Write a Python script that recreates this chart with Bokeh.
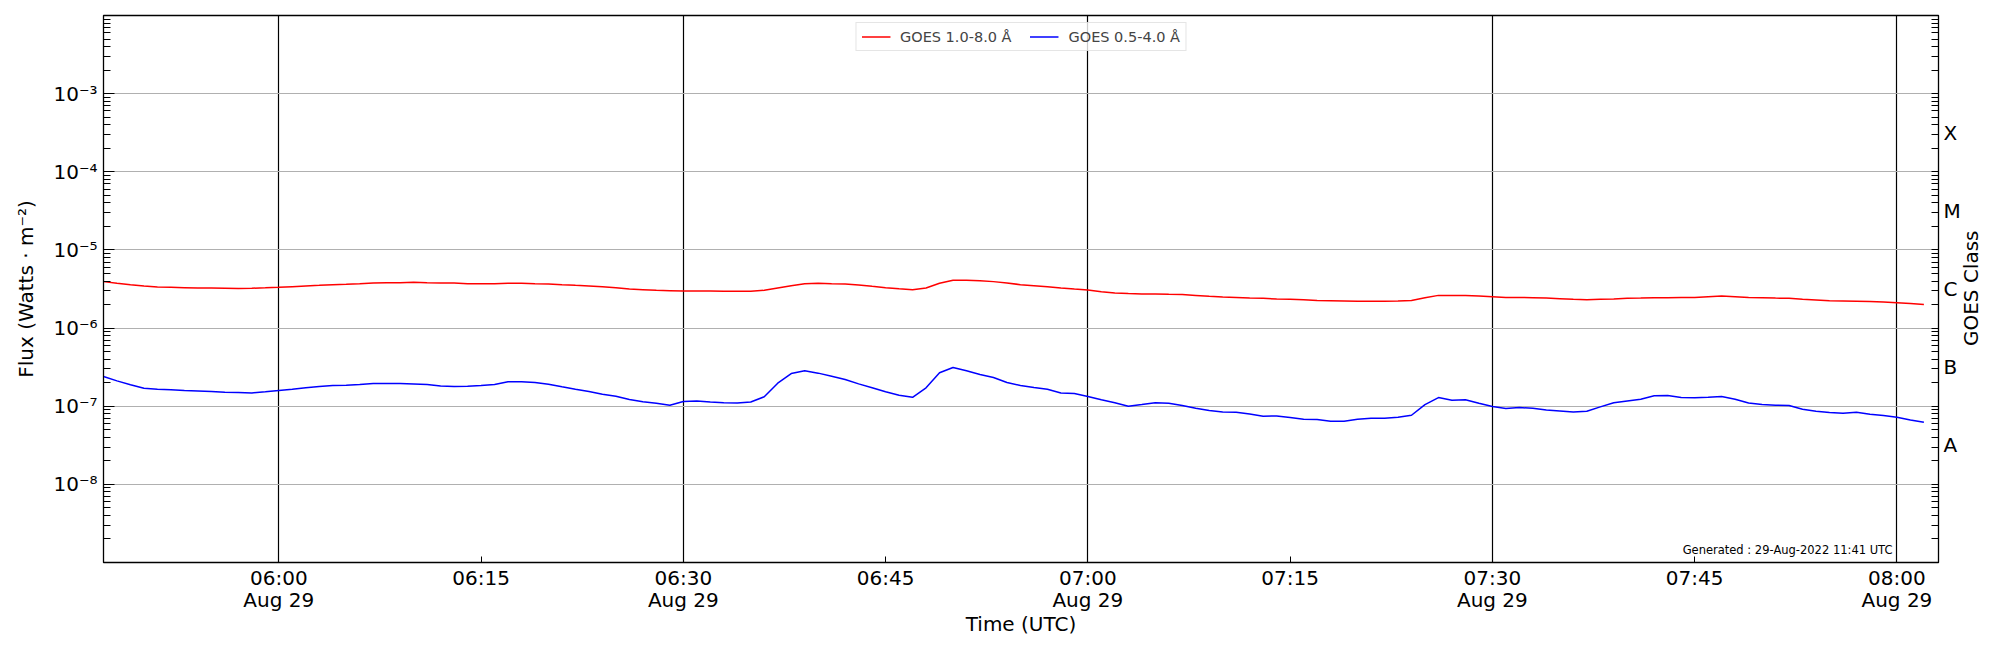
import numpy as np
import pandas as pd
from math import pi
from bokeh.plotting import figure
from bokeh.models import (Range1d, FixedTicker, LogAxis, CustomJSTickFormatter,
                          Legend, LegendItem, Label)
from bokeh.embed import file_html
from bokeh.resources import INLINE

# ---------------- data ----------------
start_time = "2022-08-29 05:47"
date_label = "Aug 29"
legend_labels = ["GOES 1.0-8.0 Å", "GOES 0.5-4.0 Å"]
goes_classes = ["A", "B", "C", "M", "X"]
right_title = "GOES Class"
generated_text = "Generated : 29-Aug-2022 11:41 UTC"

# GOES 1.0-8.0 Å flux (W m^-2), one value per minute from 05:47
red_flux = [
    3.93e-6, 3.74e-6, 3.59e-6, 3.46e-6, 3.35e-6, 3.32e-6, 3.29e-6, 3.26e-6, 3.26e-6, 3.24e-6,
    3.22e-6, 3.24e-6, 3.27e-6,
    3.32e-6, 3.39e-6, 3.46e-6, 3.52e-6, 3.59e-6, 3.63e-6, 3.70e-6, 3.78e-6, 3.81e-6, 3.81e-6,
    3.85e-6, 3.81e-6, 3.78e-6, 3.78e-6, 3.70e-6, 3.70e-6, 3.70e-6, 3.74e-6, 3.74e-6, 3.70e-6,
    3.67e-6, 3.59e-6, 3.52e-6, 3.46e-6, 3.39e-6, 3.29e-6, 3.16e-6, 3.10e-6, 3.04e-6, 3.01e-6,
    2.98e-6, 2.98e-6, 2.98e-6, 2.95e-6, 2.95e-6, 2.95e-6, 3.04e-6, 3.26e-6, 3.49e-6, 3.70e-6,
    3.74e-6, 3.70e-6, 3.67e-6, 3.56e-6, 3.42e-6, 3.29e-6, 3.19e-6, 3.10e-6, 3.26e-6, 3.74e-6,
    4.08e-6, 4.08e-6, 4.04e-6, 3.93e-6, 3.78e-6, 3.59e-6, 3.49e-6, 3.39e-6, 3.26e-6, 3.16e-6,
    3.07e-6, 2.92e-6, 2.81e-6, 2.76e-6, 2.73e-6, 2.73e-6, 2.70e-6, 2.68e-6, 2.62e-6, 2.55e-6,
    2.50e-6, 2.47e-6, 2.42e-6, 2.40e-6, 2.35e-6, 2.33e-6, 2.31e-6, 2.26e-6, 2.24e-6, 2.22e-6,
    2.20e-6, 2.20e-6, 2.20e-6, 2.22e-6, 2.26e-6, 2.45e-6, 2.62e-6, 2.62e-6, 2.62e-6, 2.57e-6,
    2.52e-6, 2.47e-6, 2.47e-6, 2.45e-6, 2.42e-6, 2.38e-6, 2.33e-6, 2.31e-6, 2.33e-6, 2.35e-6,
    2.40e-6, 2.42e-6, 2.45e-6, 2.45e-6, 2.47e-6, 2.47e-6, 2.52e-6, 2.57e-6, 2.52e-6, 2.47e-6,
    2.45e-6, 2.42e-6, 2.40e-6, 2.33e-6, 2.29e-6, 2.24e-6, 2.22e-6, 2.20e-6, 2.18e-6, 2.15e-6,
    2.11e-6, 2.07e-6, 2.01e-6,
]

# GOES 0.5-4.0 Å flux (W m^-2), one value per minute from 05:47
blue_flux = [
    2.40e-7, 2.11e-7, 1.88e-7, 1.70e-7, 1.65e-7, 1.62e-7, 1.59e-7, 1.57e-7, 1.54e-7, 1.51e-7,
    1.50e-7, 1.48e-7, 1.53e-7,
    1.59e-7, 1.65e-7, 1.72e-7, 1.79e-7, 1.84e-7, 1.86e-7, 1.90e-7, 1.95e-7, 1.95e-7, 1.95e-7,
    1.93e-7, 1.90e-7, 1.82e-7, 1.79e-7, 1.80e-7, 1.84e-7, 1.90e-7, 2.05e-7, 2.05e-7, 2.01e-7,
    1.91e-7, 1.77e-7, 1.65e-7, 1.54e-7, 1.42e-7, 1.34e-7, 1.22e-7, 1.14e-7, 1.09e-7, 1.03e-7,
    1.15e-7, 1.17e-7, 1.13e-7, 1.11e-7, 1.10e-7, 1.13e-7, 1.32e-7, 1.97e-7, 2.62e-7, 2.84e-7,
    2.65e-7, 2.42e-7, 2.20e-7, 1.93e-7, 1.72e-7, 1.53e-7, 1.38e-7, 1.30e-7, 1.72e-7, 2.68e-7,
    3.13e-7, 2.84e-7, 2.55e-7, 2.33e-7, 2.01e-7, 1.84e-7, 1.73e-7, 1.65e-7, 1.48e-7, 1.45e-7,
    1.33e-7, 1.21e-7, 1.11e-7, 1.00e-7, 1.05e-7, 1.11e-7, 1.09e-7, 1.02e-7, 0.943e-7, 0.880e-7,
    0.846e-7, 0.838e-7, 0.797e-7, 0.744e-7, 0.752e-7, 0.716e-7, 0.681e-7, 0.675e-7, 0.642e-7, 0.642e-7,
    0.681e-7, 0.702e-7, 0.702e-7, 0.723e-7, 0.767e-7, 1.05e-7, 1.29e-7, 1.19e-7, 1.21e-7, 1.09e-7,
    0.990e-7, 0.934e-7, 0.961e-7, 0.943e-7, 0.897e-7, 0.871e-7, 0.846e-7, 0.863e-7, 0.981e-7, 1.11e-7,
    1.17e-7, 1.23e-7, 1.36e-7, 1.37e-7, 1.29e-7, 1.28e-7, 1.30e-7, 1.33e-7, 1.23e-7, 1.10e-7,
    1.05e-7, 1.03e-7, 1.02e-7, 0.915e-7, 0.863e-7, 0.829e-7, 0.813e-7, 0.838e-7, 0.790e-7, 0.759e-7,
    0.723e-7, 0.668e-7, 0.624e-7,
]

times = pd.date_range(start=start_time, periods=len(red_flux), freq="min")

# ---------------- figure ----------------
FONT = "DejaVu Sans"

def ms(ts):
    return pd.Timestamp(ts).value // 10**6

x_start = pd.Timestamp("2022-08-29 05:47:00")
x_end = pd.Timestamp("2022-08-29 08:03:05")

p = figure(width=2000, height=650, x_axis_type="datetime", y_axis_type="log",
           x_range=Range1d(x_start, x_end), y_range=Range1d(1e-9, 1e-2),
           output_backend="svg", toolbar_location=None,
           min_border_left=103, min_border_right=62, min_border_top=15, min_border_bottom=88)
p.background_fill_color = "white"
p.border_fill_color = "white"
p.outline_line_color = "black"
p.outline_line_width = 1.3
p.outline_line_alpha = 1.0

r_red = p.line(times, red_flux, line_color="#ff0000", line_width=1.5)
r_blue = p.line(times, blue_flux, line_color="#0000ff", line_width=1.5)

# x ticks every 15 minutes, vertical black lines every 30 minutes
quarter_ticks = [ms(t) for t in pd.date_range("2022-08-29 06:00", "2022-08-29 08:00", freq="15min")]
half_ticks = [ms(t) for t in pd.date_range("2022-08-29 06:00", "2022-08-29 08:00", freq="30min")]

xa = p.xaxis[0]
xa.ticker = FixedTicker(ticks=quarter_ticks)
xa.formatter = CustomJSTickFormatter(args=dict(date_label=date_label), code="""
const d = new Date(tick);
const hh = String(d.getUTCHours()).padStart(2, "0");
const mm = String(d.getUTCMinutes()).padStart(2, "0");
const t = hh + ":" + mm;
return (d.getUTCMinutes() % 30 === 0) ? t + "\\n" + date_label : t;
""")
xa.major_tick_in = 6
xa.major_tick_out = 0
xa.minor_tick_in = 0
xa.minor_tick_out = 0
xa.major_label_standoff = 3
xa.major_label_text_font = FONT
xa.major_label_text_font_size = "20px"
xa.major_label_text_color = "black"
xa.major_label_text_line_height = 0.95
xa.axis_line_color = "black"
xa.major_tick_line_color = "black"
xa.axis_label = "Time (UTC)"
xa.axis_label_text_font = FONT
xa.axis_label_text_font_size = "20px"
xa.axis_label_text_font_style = "normal"
xa.axis_label_text_color = "black"
xa.axis_label_standoff = -3

p.xgrid.ticker = FixedTicker(ticks=half_ticks)
p.xgrid.grid_line_color = "black"
p.xgrid.grid_line_width = 1.2
p.xgrid.grid_line_alpha = 1.0

# y ticks
decades = [10.0 ** e for e in range(-8, -2)]
all_decades = [10.0 ** e for e in range(-9, -1)]
minors = [k * 10.0 ** e for e in range(-9, -2) for k in range(2, 10)]

sup_code = """
const sup = {"-": "\u207b", "0": "\u2070", "1": "\u00b9", "2": "\u00b2", "3": "\u00b3",
             "4": "\u2074", "5": "\u2075", "6": "\u2076", "7": "\u2077", "8": "\u2078", "9": "\u2079"};
const e = Math.round(Math.log10(tick));
return "10" + String(e).split("").map(c => sup[c]).join("");
"""

ya = p.yaxis[0]
ya.ticker = FixedTicker(ticks=decades, minor_ticks=minors)
ya.formatter = CustomJSTickFormatter(code=sup_code)
ya.major_tick_in = 11
ya.major_tick_out = 0
ya.minor_tick_in = 7
ya.minor_tick_out = 0
ya.major_label_standoff = 6
ya.major_label_text_font = FONT
ya.major_label_text_font_size = "20px"
ya.major_label_text_color = "black"
ya.axis_line_color = "black"
ya.axis_label = "Flux (Watts \u00b7 m\u207b\u00b2)"
ya.axis_label_text_font = FONT
ya.axis_label_text_font_size = "20px"
ya.axis_label_text_font_style = "normal"
ya.axis_label_text_color = "black"
ya.axis_label_standoff = 12

p.ygrid.ticker = FixedTicker(ticks=decades)
p.ygrid.grid_line_color = "#b0b0b0"
p.ygrid.grid_line_width = 1.2
p.ygrid.grid_line_alpha = 1.0

# right axis with GOES classes at decade centres
class_centres = [10.0 ** (e + 0.5) for e in range(-8, -3)]
ra = LogAxis(ticker=FixedTicker(ticks=class_centres, minor_ticks=all_decades + minors),
             formatter=CustomJSTickFormatter(args=dict(labels=goes_classes), code="""
const i = Math.round(Math.log10(tick) + 7.5);
return labels[i];
"""))
ra.major_tick_in = 0
ra.major_tick_out = 0
ra.minor_tick_in = 7
ra.minor_tick_out = 0
ra.major_label_standoff = 5
ra.major_label_text_font = FONT
ra.major_label_text_font_size = "20px"
ra.major_label_text_color = "black"
ra.axis_line_color = "black"
p.add_layout(ra, "right")

# "GOES Class" title, reading bottom to top, centred on the frame:
# drawn as the single tick label of an invisible extra right axis, whose
# text starts at the tick placed below the vertical centre.
title_anchor = [10.0 ** -6.23]
ga = LogAxis(ticker=FixedTicker(ticks=title_anchor, minor_ticks=[]),
             formatter=CustomJSTickFormatter(args=dict(title=right_title), code="return title;"))
ga.major_label_orientation = pi / 2
ga.major_tick_in = 0
ga.major_tick_out = 0
ga.minor_tick_in = 0
ga.minor_tick_out = 0
ga.axis_line_color = None
ga.major_tick_line_color = None
ga.minor_tick_line_color = None
ga.major_label_standoff = 8
ga.major_label_text_font = FONT
ga.major_label_text_font_size = "20px"
ga.major_label_text_color = "black"
p.add_layout(ga, "right")

# generated stamp
p.add_layout(Label(x=1789, y=13, x_units="screen", y_units="screen", text=generated_text,
                   text_align="right", text_baseline="alphabetic",
                   text_font=FONT, text_font_size="11.5px", text_color="black"))

legend = Legend(items=[LegendItem(label=legend_labels[0], renderers=[r_red]),
                       LegendItem(label=legend_labels[1], renderers=[r_blue])],
                location="top_center", orientation="horizontal")
legend.label_text_font = FONT
legend.label_text_font_size = "14.5px"
legend.glyph_width = 29
legend.glyph_height = 17
legend.label_height = 17
legend.label_standoff = 10
legend.spacing = 18
legend.padding = 5
legend.margin = 7
legend.border_line_color = "#cccccc"
legend.border_line_width = 1
legend.background_fill_alpha = 0.8
p.add_layout(legend)

open("out.html", "w", encoding="utf-8").write(file_html(p, INLINE))
